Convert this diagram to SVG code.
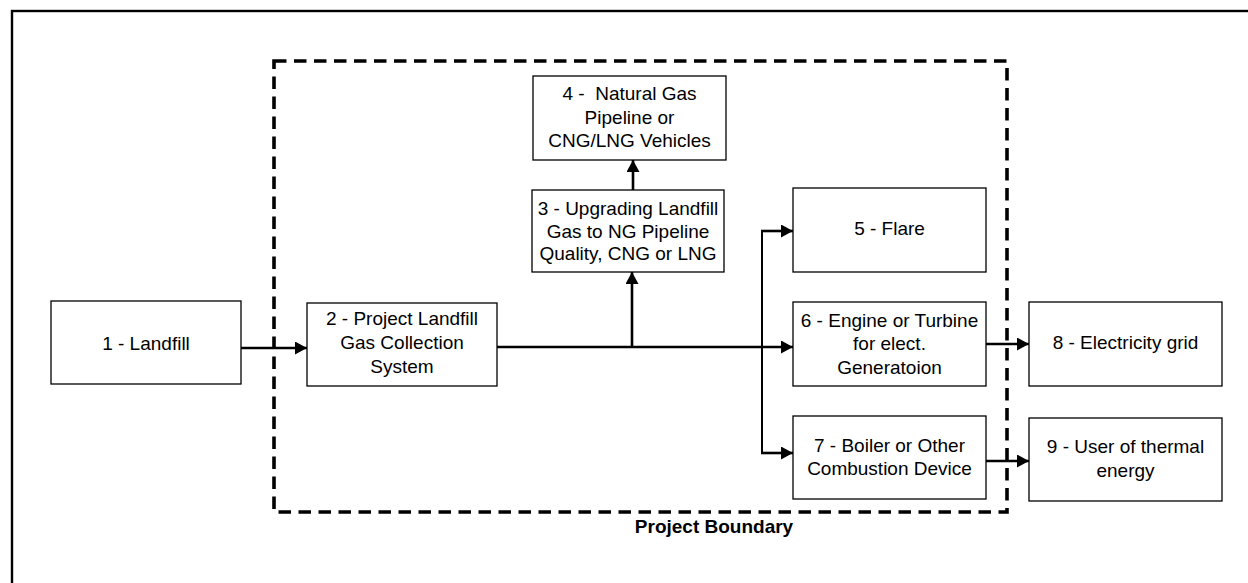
<svg xmlns="http://www.w3.org/2000/svg" width="1248" height="583" viewBox="0 0 1248 583">
<defs>
<style>
.box{fill:#fff;stroke:#000;stroke-width:1.3}
.t{font-family:"Liberation Sans",Arial,sans-serif;font-size:19px;fill:#000;text-anchor:middle}
.tb{font-family:"Liberation Sans",Arial,sans-serif;font-size:19px;font-weight:bold;fill:#000;text-anchor:middle}
.c{fill:none;stroke:#000;stroke-width:2.6}
.cv{fill:none;stroke:#000;stroke-width:2}
</style>
<marker id="ah" markerUnits="userSpaceOnUse" markerWidth="13" markerHeight="13" refX="12" refY="6.5" orient="auto">
<path d="M0,0 L12,6.5 L0,13 Z" fill="#000"/>
</marker>
</defs>
<rect width="1248" height="583" fill="#fff"/>
<rect id="frame" x="12" y="11" width="1300" height="700" fill="none" stroke="#000" stroke-width="2.4"/>
<g id="boundary">
<rect x="274" y="61" width="733" height="451" fill="none" stroke="#000" stroke-width="3.6" stroke-dasharray="12.5 7.5"/>
<text class="tb" x="714" y="533">Project Boundary</text>
</g>
<g id="connectors">
<path class="c" d="M241,348 H307" marker-end="url(#ah)"/>
<path class="c" d="M497,347 H793" marker-end="url(#ah)"/>
<path class="c" d="M632,347 V272" marker-end="url(#ah)"/>
<path class="c" d="M633,190 V160" marker-end="url(#ah)"/>
<path class="cv" d="M762,231 V453"/>
<path class="c" d="M761,231 H793" marker-end="url(#ah)"/>
<path class="c" d="M761,453 H793" marker-end="url(#ah)"/>
<path class="c" d="M986,344 H1029" marker-end="url(#ah)"/>
<path class="c" d="M986,461 H1029" marker-end="url(#ah)"/>
</g>
<g id="n1"><rect class="box" x="51" y="301" width="190" height="83"/><text class="t" x="146" y="350">1 - Landfill</text></g>
<g id="n2"><rect class="box" x="307" y="303" width="190" height="83"/><text class="t" x="402"><tspan x="402" y="325">2 - Project Landfill</tspan><tspan x="402" y="349">Gas Collection</tspan><tspan x="402" y="373">System</tspan></text></g>
<g id="n3"><rect class="box" x="532" y="190" width="192" height="82"/><text class="t" x="628"><tspan x="628" y="215">3 - Upgrading Landfill</tspan><tspan x="628" y="237.5">Gas to NG Pipeline</tspan><tspan x="628" y="260">Quality, CNG or LNG</tspan></text></g>
<g id="n4"><rect class="box" x="533" y="76" width="193" height="84"/><text class="t" x="629.5" xml:space="preserve"><tspan x="629.5" y="100">4 -  Natural Gas</tspan><tspan x="629.5" y="124">Pipeline or</tspan><tspan x="629.5" y="147">CNG/LNG Vehicles</tspan></text></g>
<g id="n5"><rect class="box" x="793" y="188" width="193" height="84"/><text class="t" x="889.5" y="235">5 - Flare</text></g>
<g id="n6"><rect class="box" x="793" y="302" width="193" height="84"/><text class="t" x="889.5"><tspan x="889.5" y="327">6 - Engine or Turbine</tspan><tspan x="889.5" y="350">for elect.</tspan><tspan x="889.5" y="374">Generatoion</tspan></text></g>
<g id="n7"><rect class="box" x="793" y="416" width="193" height="83"/><text class="t" x="889.5"><tspan x="889.5" y="452">7 - Boiler or Other</tspan><tspan x="889.5" y="475">Combustion Device</tspan></text></g>
<g id="n8"><rect class="box" x="1029" y="302" width="193" height="84"/><text class="t" x="1125.5" y="349">8 - Electricity grid</text></g>
<g id="n9"><rect class="box" x="1029" y="418" width="193" height="83"/><text class="t" x="1125.5"><tspan x="1125.5" y="453">9 - User of thermal</tspan><tspan x="1125.5" y="477">energy</tspan></text></g>
</svg>
